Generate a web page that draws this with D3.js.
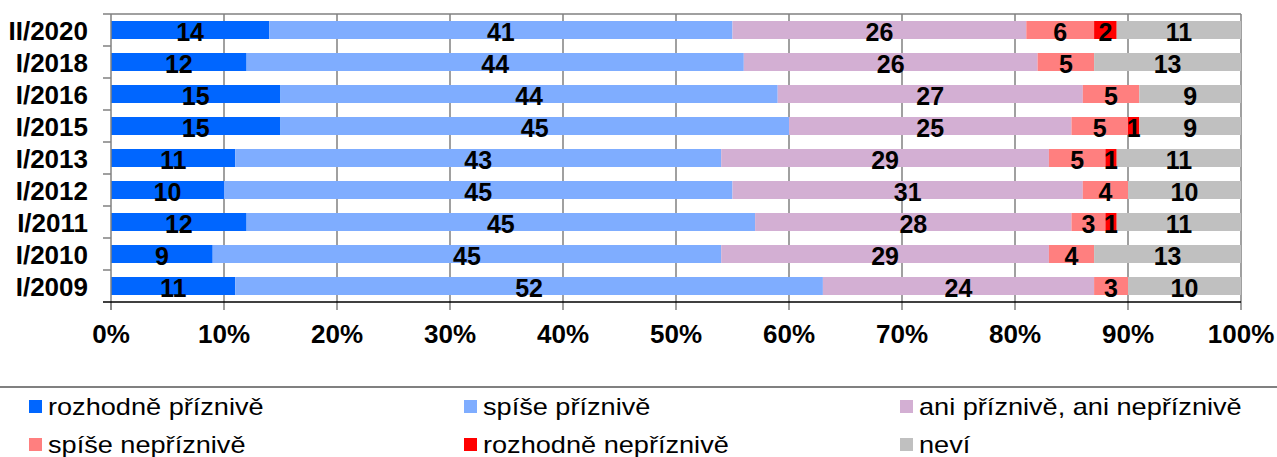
<!DOCTYPE html>
<html><head><meta charset="utf-8">
<script src="https://cdn.jsdelivr.net/npm/d3@7"></script>
<style>
html,body{margin:0;padding:0;background:#fff;}
svg{display:block;font-family:"Liberation Sans",Arial,sans-serif;}
</style></head>
<body>
<svg id="chart" width="1277" height="457"></svg>
<script>
const categories = ["II/2020","I/2018","I/2016","I/2015","I/2013","I/2012","I/2011","I/2010","I/2009"];
const seriesNames = ["rozhodně příznivě","spíše příznivě","ani příznivě, ani nepříznivě","spíše nepříznivě","rozhodně nepříznivě","neví"];
const seriesColors = ["#0066ff","#7fadff","#d3afd3","#ff7f7f","#ff0000","#c0c0c0"];
const rozhodnePriznive   = [14,12,15,15,11,10,12, 9,11];
const spisePriznive      = [41,44,44,45,43,45,45,45,52];
const aniAni             = [26,26,27,25,29,31,28,29,24];
const spiseNepriznive    = [ 6, 5, 5, 5, 5, 4, 3, 4, 3];
const rozhodneNepriznive = [ 2, 0, 0, 1, 1, 0, 1, 0, 0];
const nevi               = [11,13, 9, 9,11,10,11,13,10];
const xTicks = [0,10,20,30,40,50,60,70,80,90,100];
const xTickLabels = ["0%","10%","20%","30%","40%","50%","60%","70%","80%","90%","100%"];

(function(){
const seriesValues = [rozhodnePriznive,spisePriznive,aniAni,spiseNepriznive,rozhodneNepriznive,nevi];
const svg = d3.select("#chart");

const pL = 111, pR = 1241, pT = 14, pB = 302;
const x = d3.scaleLinear().domain([0,100]).range([pL,pR]);
const pi = 14/32;
const y = d3.scaleBand().domain(categories).range([pT,pB]).paddingInner(pi).paddingOuter(pi/2);
const step = y.step(), bw = y.bandwidth(), off = (step-bw)/2;

const grid = "#808080";
svg.append("g").selectAll("line").data(xTicks.filter(t=>t>0 && t<100)).join("line")
  .attr("x1",d=>x(d)).attr("x2",d=>x(d)).attr("y1",pT).attr("y2",pB)
  .attr("stroke",grid).attr("stroke-width",1.5);
svg.append("line").attr("x1",pL).attr("x2",pR).attr("y1",pT).attr("y2",pT).attr("stroke",grid).attr("stroke-width",1.5);
svg.append("line").attr("x1",pR).attr("x2",pR).attr("y1",pT).attr("y2",pB).attr("stroke",grid).attr("stroke-width",1.5);

const rows = categories.map((c,i)=>{ const o={cat:c}; seriesNames.forEach((s,j)=>o[s]=seriesValues[j][i]); return o; });
const stack = d3.stack().keys(seriesNames)(rows);

const layers = svg.append("g").selectAll("g").data(stack).join("g")
  .attr("fill",(d,i)=>seriesColors[i]);
layers.selectAll("rect").data(d=>d).join("rect")
  .attr("x",d=>x(d[0])).attr("width",d=>x(d[1])-x(d[0]))
  .attr("y",d=>y(d.data.cat)).attr("height",bw);

const labG = svg.append("g").attr("font-weight","bold").attr("font-size","25px").attr("text-anchor","middle").attr("fill","#000");
stack.forEach((layer)=>{
  layer.forEach(d=>{
    const v = d[1]-d[0];
    if (v<=0) return;
    labG.append("text").attr("x",(x(d[0])+x(d[1]))/2).attr("y",y(d.data.cat)+bw/2+11).text(v);
  });
});

svg.append("line").attr("x1",pL).attr("x2",pL).attr("y1",pT).attr("y2",pB+8).attr("stroke",grid).attr("stroke-width",1.5);
const bounds = categories.map(c=>y(c)-off);
svg.append("g").selectAll("line").data(bounds).join("line")
  .attr("x1",pL-8).attr("x2",pL).attr("y1",d=>d).attr("y2",d=>d).attr("stroke",grid).attr("stroke-width",1.5);
svg.append("g").selectAll("text").data(categories).join("text")
  .attr("x",88).attr("y",c=>y(c)+bw/2+9.5).attr("text-anchor","end")
  .attr("font-weight","bold").attr("font-size","26px").text(c=>c);

svg.append("g").selectAll("line").data(xTicks).join("line")
  .attr("x1",d=>x(d)).attr("x2",d=>x(d)).attr("y1",pB).attr("y2",pB+8).attr("stroke",grid).attr("stroke-width",1.5);
svg.append("line").attr("x1",pL-8).attr("x2",pR).attr("y1",pB).attr("y2",pB).attr("stroke","#000").attr("stroke-width",1.5);
svg.append("g").selectAll("text").data(xTicks).join("text")
  .attr("x",d=>x(d)).attr("y",343).attr("text-anchor","middle")
  .attr("font-weight","bold").attr("font-size","26px").text((d,i)=>xTickLabels[i]);

svg.append("line").attr("x1",0).attr("x2",1277).attr("y1",387).attr("y2",387).attr("stroke","#808080").attr("stroke-width",2);
const colX = [29,464,900], rowY = [400,438];
const leg = svg.append("g").selectAll("g").data(seriesNames).join("g")
  .attr("transform",(d,i)=>`translate(${colX[i%3]},${rowY[Math.floor(i/3)]})`);
leg.append("rect").attr("width",13).attr("height",13).attr("fill",(d,i)=>seriesColors[i]);
leg.append("text").attr("transform","translate(19,15) scale(1.18,1)").attr("font-size","23px").attr("fill","#000").text(d=>d);
})();
</script>
</body></html>
